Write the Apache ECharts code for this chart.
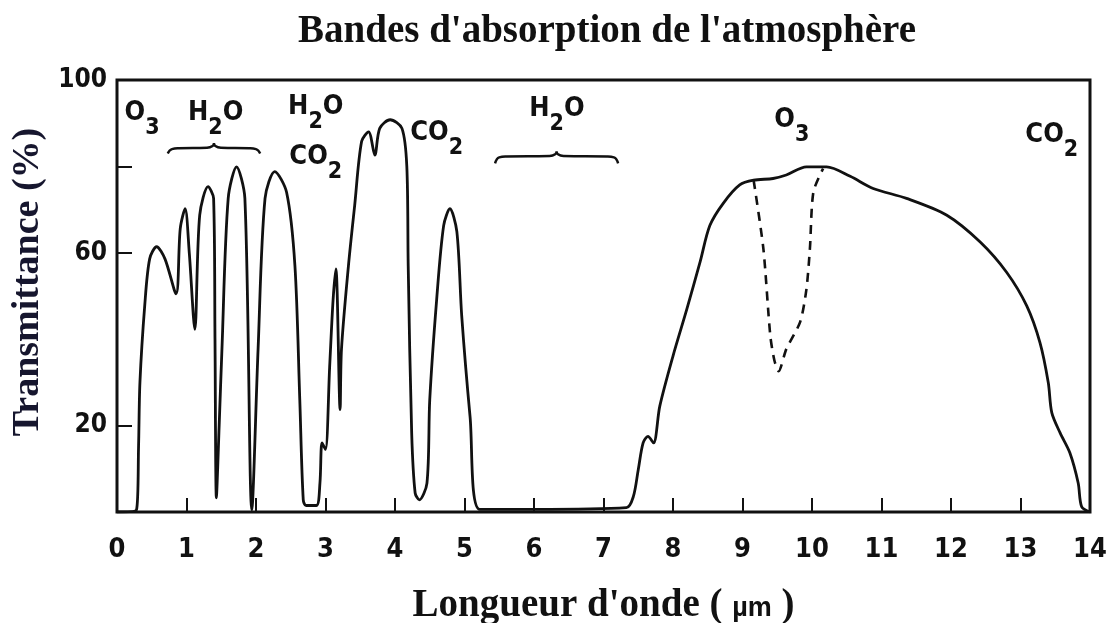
<!DOCTYPE html>
<html>
<head>
<meta charset="utf-8">
<script src="https://cdn.jsdelivr.net/npm/echarts@6/dist/echarts.min.js"></script>
<style>html,body{margin:0;padding:0;background:#fff}#chart{width:1113px;height:623px}</style>
</head>
<body>
<div id="chart"></div>
<script>
// courbe de transmittance (longueur d'onde en µm, transmittance en %)
var wavelength = [0, 0.28, 0.31, 0.33, 0.40, 0.47, 0.57, 0.69, 0.85, 0.91, 0.98, 1.04, 1.12, 1.19, 1.31, 1.39, 1.41, 1.43, 1.47, 1.51, 1.60, 1.72, 1.84, 1.94, 2.03, 2.13, 2.27, 2.44, 2.56, 2.63, 2.68, 2.72, 2.87, 2.92, 2.95, 3.00, 3.06, 3.11, 3.15, 3.21, 3.23, 3.33, 3.42, 3.52, 3.62, 3.71, 3.78, 3.93, 4.10, 4.17, 4.19, 4.24, 4.29, 4.35, 4.46, 4.50, 4.60, 4.70, 4.79, 4.89, 4.96, 5.08, 5.22, 6.00, 7.33, 7.43, 7.50, 7.57, 7.64, 7.72, 7.81, 8.00, 8.20, 8.39, 8.53, 8.72, 8.96, 9.16, 9.44, 9.63, 9.92, 10.21, 10.55, 10.88, 11.36, 11.94, 12.42, 12.80, 13.09, 13.28, 13.40, 13.45, 13.57, 13.71, 13.83, 13.88, 14];
var transmittance = [0, 0.5, 15, 30, 48, 58.6, 61.4, 58.6, 50.5, 65.6, 70.2, 60, 42.3, 68.7, 75.3, 72.6, 40, 3.3, 20, 37.7, 72.6, 79.9, 72.6, 0.5, 37.7, 72.6, 78.8, 74, 57, 26, 2.8, 1.5, 1.5, 6.7, 16, 14.5, 33.7, 49.3, 56.3, 23.7, 37.7, 57, 71, 85.8, 88, 82.6, 88.8, 90.8, 88.8, 80, 57, 18.3, 4.4, 2.8, 6.7, 26, 49.3, 66.3, 70.2, 64.9, 45.4, 22.1, 0.6, 0.6, 1.0, 3.6, 9.8, 16, 17.5, 16, 24.5, 36.1, 47, 57.9, 66.3, 71.4, 75.7, 76.8, 77.2, 78, 79.9, 79.9, 77.7, 74.9, 72.6, 68.7, 62.5, 55.5, 47.7, 39.2, 29.9, 23, 18.3, 13.7, 6.7, 1.2, 0];
// bande de l'ozone (pointillés)
var o3Wavelength = [9.16, 9.30, 9.40, 9.46, 9.52, 9.63, 9.83, 9.92, 9.97, 10.02, 10.16];
var o3Transmittance = [76.8, 61, 40.8, 35, 32.6, 37.7, 44, 51.6, 61, 74.1, 79.5];

var yLabels = [20, 60, 100];
var yTicks = [20, 60, 80];

var gasTexts = ['{m|O}{s|3}', '{m|H}{s|2}{m|O}', '{m|H}{s|2}{m|O}\n{m|CO}{s|2}', '{m|CO}{s|2}', '{m|H}{s|2}{m|O}', '{m|O}{s|3}', '{m|CO}{s|2}'];
var gasAt = [[0.36, 92.3], [1.42, 92.3], [2.86, 87.9], [4.60, 87.7], [6.33, 93.3], [9.71, 90.7], [13.45, 87.2]];
// accolades : début, fin, niveau, hauteur des bouts
var braces = [[0.73, 2.06, 84.2, 1.2], [5.44, 7.21, 82.3, 1.6]];

var serif = "'Liberation Serif', 'Times New Roman', serif";
var narrow = "'Liberation Sans Narrow', 'DejaVu Sans Condensed', sans-serif";

function zip(a, b) {
    var out = [];
    for (var i = 0; i < a.length; i++) out.push([a[i], b[i]]);
    return out;
}

function braceData() {
    var pts = [];
    braces.forEach(function (b) {
        var x0 = b[0], x1 = b[1], y = b[2], h = b[3];
        var xm = (x0 + x1) / 2;
        pts.push([x0, y - h], [x0 + 0.06, y - 0.2], [x0 + 0.16, y], [xm - 0.1, y + 0.1], [xm - 0.02, y + 0.5], [xm, y + 1.2], '-');
        pts.push([xm, y + 1.2], [xm + 0.02, y + 0.5], [xm + 0.1, y + 0.1], [x1 - 0.16, y], [x1 - 0.06, y - 0.2], [x1, y - h], '-');
    });
    return pts;
}

var richGas = {
    m: {fontFamily: narrow, fontWeight: 'bold', fontSize: 27, color: '#111', lineHeight: 50},
    s: {fontFamily: narrow, fontWeight: 'bold', fontSize: 23, color: '#111', lineHeight: 20, padding: [30, 0, 0, 0]}
};

var chart = echarts.init(document.getElementById('chart'));
var option = {
    animation: false,
    backgroundColor: '#fff',
    title: {
        text: "Bandes d'absorption de l'atmosphère",
        left: 602, top: 7, textAlign: 'center',
        textStyle: {fontFamily: serif, fontWeight: 'bold', fontSize: 39, color: '#111'}
    },
    grid: {left: 117, right: 23, top: 80, bottom: 111, outerBoundsMode: 'none',
        show: true, borderColor: '#111', borderWidth: 3},
    xAxis: {
        type: 'value', min: 0, max: 14, interval: 1,
        name: "Longueur d'onde ( {mu|µm} )",
        nameLocation: 'middle', nameGap: 74,
        nameTextStyle: {fontFamily: serif, fontWeight: 'bold', fontSize: 39, color: '#111',
            rich: {mu: {fontFamily: 'Liberation Sans', fontSize: 27, color: '#111', padding: [6, 0, 0, 0]}}},
        axisLine: {show: false},
        axisTick: {inside: true, length: 14, lineStyle: {color: '#111', width: 2}},
        axisLabel: {margin: 24, fontFamily: narrow, fontWeight: 'bold', fontSize: 27, color: '#111'},
        splitLine: {show: false}
    },
    yAxis: {
        type: 'value', min: 0, max: 100, interval: 20,
        name: 'Transmittance (%)',
        nameLocation: 'middle', nameRotate: 90, nameGap: 60,
        nameTextStyle: {fontFamily: serif, fontWeight: 'bold', fontSize: 38, color: '#16162e', padding: [0, 0, 0, 28]},
        axisLine: {show: false},
        axisTick: {inside: true, length: 15, customValues: yTicks, lineStyle: {color: '#111', width: 2}},
        axisLabel: {margin: 10, customValues: yLabels, fontFamily: narrow, fontWeight: 'bold', fontSize: 26, color: '#111'},
        splitLine: {show: false}
    },
    series: [
        {
            type: 'line', data: zip(wavelength, transmittance),
            showSymbol: false, smooth: 0.3,
            lineStyle: {color: '#111', width: 2.8},
            markPoint: {
                symbol: 'circle', symbolSize: 0, silent: true,
                label: {show: true, position: 'inside', rich: richGas},
                data: gasAt.map(function (c, i) {
                    return {coord: c, label: {formatter: gasTexts[i]}};
                })
            }
        },
        {
            type: 'line', data: zip(o3Wavelength, o3Transmittance),
            showSymbol: false, smooth: 0.25,
            lineStyle: {color: '#111', width: 2.6, type: [9, 7]}
        },
        {
            type: 'line', data: braceData(), connectNulls: false,
            showSymbol: false, smooth: 0.5,
            lineStyle: {color: '#111', width: 2.4}
        }
    ]
};
chart.setOption(option);
</script>
</body>
</html>
